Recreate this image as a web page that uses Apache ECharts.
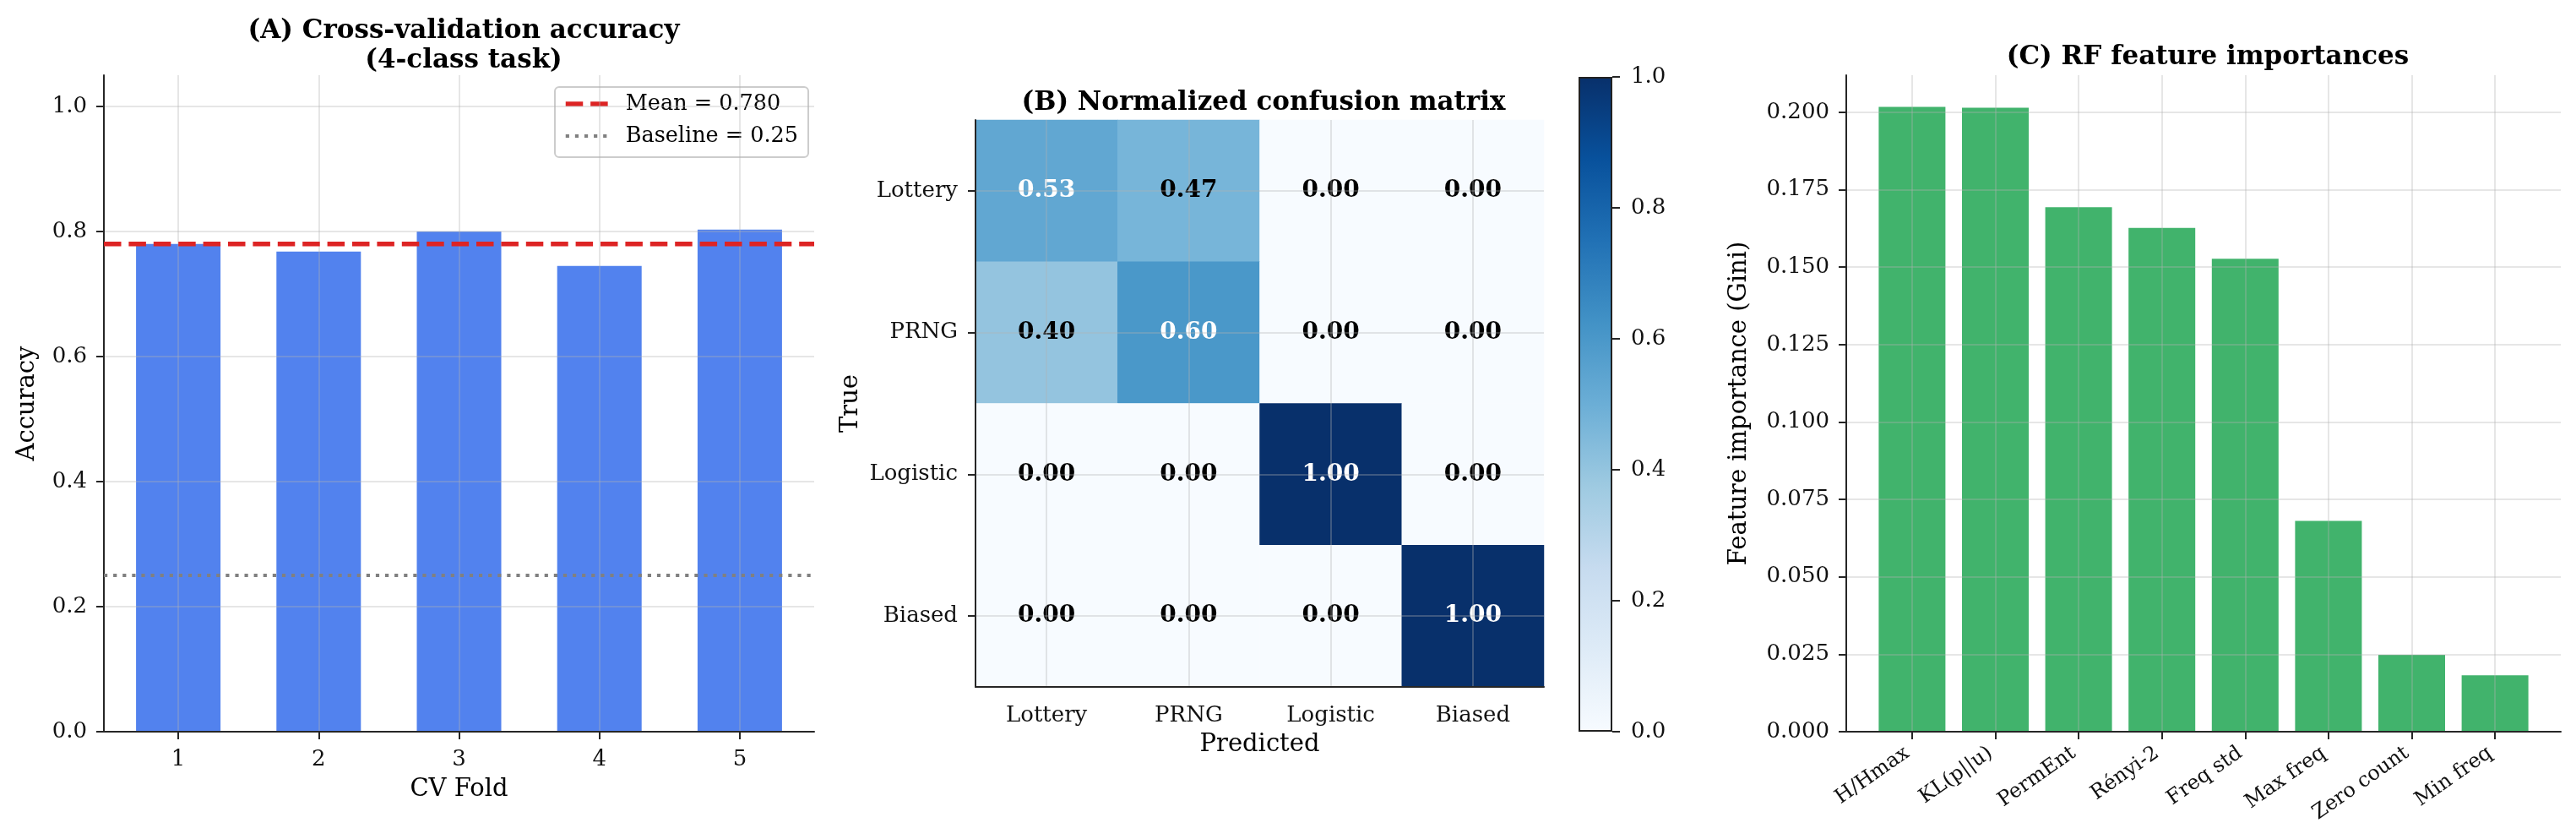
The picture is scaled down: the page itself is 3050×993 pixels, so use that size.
<!DOCTYPE html>
<html>
<head>
<meta charset="utf-8">
<title>Classifier summary</title>
<script src="https://cdn.jsdelivr.net/npm/echarts@6/dist/echarts.min.js"></script>
<style>
    html, body { margin: 0; padding: 0; background: #fff; }
    #chart { width: 3050px; height: 993px; }
</style>
</head>
<body>
<div id="chart"></div>
<script>
// (A) cross-validation folds
var folds = [1, 2, 3, 4, 5];
var foldAccuracy = [0.780, 0.768, 0.800, 0.745, 0.803];
var meanAccuracy = 0.780;
var baselineAccuracy = 0.25;
var accuracyTicks = [0, 0.2, 0.4, 0.6, 0.8, 1.0];

// (B) normalized confusion matrix, rows = true class, cols = predicted
var classNames = ['Lottery', 'PRNG', 'Logistic', 'Biased'];
var confusion = [
    [0.53, 0.47, 0.00, 0.00],
    [0.40, 0.60, 0.00, 0.00],
    [0.00, 0.00, 1.00, 0.00],
    [0.00, 0.00, 0.00, 1.00]
];
var colorbarTicks = [0, 0.2, 0.4, 0.6, 0.8, 1.0];

// (C) random forest feature importances
var featureNames = ['H/Hmax', 'KL(p||u)', 'PermEnt', 'Rényi-2', 'Freq std', 'Max freq', 'Zero count', 'Min freq'];
var featureImportance = [0.2018, 0.2015, 0.1694, 0.1627, 0.1527, 0.0681, 0.0248, 0.0182];
var importanceTicks = [0, 0.025, 0.05, 0.075, 0.1, 0.125, 0.15, 0.175, 0.2];

// matplotlib "Blues"
var blues = ['#f7fbff', '#deebf7', '#c6dbef', '#9ecae1', '#6baed6', '#4292c6', '#2171b5', '#08519c', '#08306b'];

var FONT = 'DejaVu Serif';
var TICK_SIZE = 26;
var LABEL_SIZE = 29;
var gridColor = 'rgba(176,176,176,0.32)';
var spine = { onZero: false, lineStyle: { color: '#262626', width: 2 } };
var tick = { length: 9, lineStyle: { color: '#262626', width: 2 } };
var nameStyle = { fontFamily: FONT, fontSize: LABEL_SIZE, color: '#000' };

// x range of the fold axis (matplotlib margins)
var foldMin = 0.47, foldMax = 5.53;

var meanStyle = { color: '#dd2424', width: 5.5, type: [20.5, 8.9] };
var baseStyle = { color: '#808080', width: 4.2, type: [4.2, 6.9] };

var heatData = [];
confusion.forEach(function (row, i) {
    row.forEach(function (v, j) {
        heatData.push({
            value: [j, i, v],
            label: { color: v > 0.5 ? '#ffffff' : '#000000' }
        });
    });
});

var featureIdx = featureNames.map(function (n, i) { return i; });
var meanName = 'Mean = ' + meanAccuracy.toFixed(3);
var baseName = 'Baseline = ' + baselineAccuracy.toFixed(2);

var chart = echarts.init(document.getElementById('chart'));

var option = {
    animation: false,
    backgroundColor: '#ffffff',
    textStyle: { fontFamily: FONT, color: '#000' },
    title: [
        {
            text: '(A) Cross-validation accuracy\n(4-class task)',
            left: 544, top: 14, textAlign: 'center',
            textStyle: { fontFamily: FONT, fontSize: 31, fontWeight: 'bold', lineHeight: 35, color: '#000' }
        },
        {
            text: '(B) Normalized confusion matrix',
            left: 1491, top: 99, textAlign: 'center',
            textStyle: { fontFamily: FONT, fontSize: 31, fontWeight: 'bold', lineHeight: 35, color: '#000' }
        },
        {
            text: '(C) RF feature importances',
            left: 2609, top: 45, textAlign: 'center',
            textStyle: { fontFamily: FONT, fontSize: 31, fontWeight: 'bold', lineHeight: 35, color: '#000' }
        }
    ],
    legend: {
        data: [
            { name: meanName, lineStyle: meanStyle },
            { name: baseName, lineStyle: baseStyle }
        ],
        orient: 'vertical',
        left: 657, top: 103,
        padding: [5, 12, 10, 10],
        itemGap: 8,
        itemWidth: 50,
        itemHeight: 14,
        itemStyle: { color: 'rgba(0,0,0,0)', borderWidth: 0, opacity: 0 },
        borderColor: '#cccccc',
        borderWidth: 2,
        borderRadius: 5,
        textStyle: { fontFamily: FONT, fontSize: 25.5, lineHeight: 30, color: '#000', padding: [0, 0, 0, 16] }
    },
    visualMap: {
        show: false,
        seriesIndex: 3,
        min: 0, max: 1,
        inRange: { color: blues }
    },
    grid: [
        { left: 123, top: 89, width: 841, height: 777 },
        { left: 1155, top: 142, width: 673, height: 671 },
        { left: 1869, top: 91, width: 40, height: 775 },
        { left: 2186, top: 89, width: 846, height: 777 }
    ],
    xAxis: [
        {
            gridIndex: 0, type: 'value', min: foldMin, max: foldMax, z: 5,
            name: 'CV Fold', nameLocation: 'middle', nameGap: 54,
            nameTextStyle: nameStyle,
            axisLine: spine,
            axisTick: Object.assign({ customValues: folds }, tick),
            axisLabel: { customValues: folds, fontSize: TICK_SIZE, margin: 20, color: '#111' },
            splitLine: { show: true, lineStyle: { color: gridColor, width: 2 } }
        },
        {
            gridIndex: 1, type: 'category', data: classNames, z: 5,
            name: 'Predicted', nameLocation: 'middle', nameGap: 54,
            nameTextStyle: nameStyle,
            axisLine: spine,
            axisTick: Object.assign({ alignWithLabel: true }, tick),
            axisLabel: { fontSize: TICK_SIZE, margin: 21, color: '#111', interval: 0 },
            splitLine: { show: true, alignWithLabel: true, interval: 0, lineStyle: { color: gridColor, width: 2 } }
        },
        {
            gridIndex: 2, type: 'category', data: [''], show: false
        },
        {
            gridIndex: 3, type: 'value', min: -0.79, max: 7.79, z: 5,
            axisLine: spine,
            axisTick: Object.assign({ customValues: featureIdx }, tick),
            axisLabel: {
                customValues: featureIdx,
                rotate: 35, fontSize: 24, margin: 19, padding: [0, 7, 0, 0], color: '#111',
                formatter: function (v) { return featureNames[v]; }
            },
            splitLine: { show: true, lineStyle: { color: gridColor, width: 2 } }
        }
    ],
    yAxis: [
        {
            gridIndex: 0, type: 'value', min: 0, max: 1.05, z: 5,
            name: 'Accuracy', nameLocation: 'middle', nameGap: 76, nameRotate: 90,
            nameTextStyle: nameStyle,
            axisLine: Object.assign({ show: true }, spine),
            axisTick: Object.assign({ show: true, customValues: accuracyTicks }, tick),
            axisLabel: {
                customValues: accuracyTicks, fontSize: TICK_SIZE, margin: 20, color: '#111',
                formatter: function (v) { return v.toFixed(1); }
            },
            splitLine: { show: true, lineStyle: { color: gridColor, width: 2 } }
        },
        {
            gridIndex: 1, type: 'category', data: classNames, inverse: true, z: 5,
            name: 'True', nameLocation: 'middle', nameGap: 133, nameRotate: 90,
            nameTextStyle: nameStyle,
            axisLine: Object.assign({ show: true }, spine),
            axisTick: Object.assign({ show: true, alignWithLabel: true }, tick),
            axisLabel: { fontSize: TICK_SIZE, margin: 21, color: '#111', interval: 0 },
            splitLine: { show: true, alignWithLabel: true, interval: 0, lineStyle: { color: gridColor, width: 2 } }
        },
        {
            gridIndex: 2, type: 'value', min: 0, max: 1, interval: 0.2, position: 'right', z: 5,
            axisLine: { show: false },
            axisTick: Object.assign({ show: true }, tick),
            axisLabel: {
                fontSize: TICK_SIZE, margin: 22, color: '#111',
                formatter: function (v) { return v.toFixed(1); }
            },
            splitLine: { show: false }
        },
        {
            gridIndex: 3, type: 'value', min: 0, max: 0.212, z: 5,
            name: 'Feature importance (Gini)', nameLocation: 'middle', nameGap: 112, nameRotate: 90,
            nameTextStyle: nameStyle,
            axisLine: Object.assign({ show: true }, spine),
            axisTick: Object.assign({ show: true, customValues: importanceTicks }, tick),
            axisLabel: {
                customValues: importanceTicks, fontSize: TICK_SIZE, margin: 20, color: '#111',
                formatter: function (v) { return v.toFixed(3); }
            },
            splitLine: { show: true, lineStyle: { color: gridColor, width: 2 } }
        }
    ],
    series: [
        {
            type: 'bar', xAxisIndex: 0, yAxisIndex: 0,
            barWidth: 100,
            itemStyle: { color: '#5282ee' },
            data: folds.map(function (f, i) { return [f, foldAccuracy[i]]; })
        },
        {
            name: meanName, type: 'line', xAxisIndex: 0, yAxisIndex: 0,
            symbol: 'none', z: 6,
            lineStyle: meanStyle,
            itemStyle: { color: meanStyle.color },
            data: [[foldMin, meanAccuracy], [foldMax, meanAccuracy]]
        },
        {
            name: baseName, type: 'line', xAxisIndex: 0, yAxisIndex: 0,
            symbol: 'none', z: 6,
            lineStyle: baseStyle,
            itemStyle: { color: baseStyle.color },
            data: [[foldMin, baselineAccuracy], [foldMax, baselineAccuracy]]
        },
        {
            type: 'heatmap', xAxisIndex: 1, yAxisIndex: 1,
            data: heatData,
            label: {
                show: true, fontFamily: FONT, fontSize: 28, fontWeight: 'bold',
                formatter: function (p) { return p.value[2].toFixed(2); }
            },
            emphasis: { disabled: true }
        },
        {
            type: 'bar', xAxisIndex: 2, yAxisIndex: 2,
            barWidth: '100%', silent: true,
            itemStyle: {
                borderColor: '#222', borderWidth: 2,
                color: new echarts.graphic.LinearGradient(0, 1, 0, 0, blues.map(function (c, i) {
                    return { offset: i / (blues.length - 1), color: c };
                }))
            },
            data: [colorbarTicks[colorbarTicks.length - 1]]
        },
        {
            type: 'bar', xAxisIndex: 3, yAxisIndex: 3,
            barWidth: 79,
            itemStyle: { color: '#41b36c' },
            data: featureImportance.map(function (v, i) { return [i, v]; })
        }
    ]
};

chart.setOption(option);
</script>
</body>
</html>
